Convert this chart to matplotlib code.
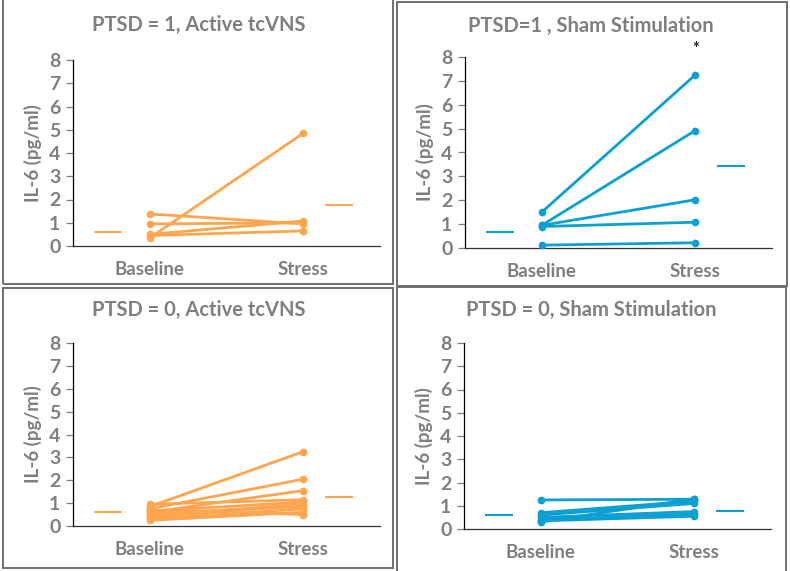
import matplotlib
matplotlib.use("Agg")
import matplotlib.pyplot as plt
from matplotlib.patches import Rectangle

# ---- data ----
categories = ["Baseline", "Stress"]
yticks = [0, 1, 2, 3, 4, 5, 6, 7, 8]

titles = ["PTSD = 1, Active tcVNS", "PTSD=1 , Sham Stimulation",
          "PTSD = 0, Active tcVNS", "PTSD = 0, Sham Stimulation"]

tl_baseline = [1.38, 0.95, 0.50, 0.45, 0.35]
tl_stress = [0.95, 1.00, 1.08, 0.65, 4.85]
tl_means = [0.60, 1.75]

tr_baseline = [1.50, 0.95, 0.95, 0.90, 0.12]
tr_stress = [7.25, 4.92, 2.02, 1.08, 0.22]
tr_means = [0.68, 3.42]

bl_baseline = [0.85, 0.75, 0.60, 0.95, 0.65, 0.45, 0.55, 0.30, 0.25, 0.70, 0.40]
bl_stress = [3.25, 2.05, 1.55, 1.15, 1.05, 0.95, 0.85, 0.75, 0.60, 0.50, 0.90]
bl_means = [0.60, 1.28]

br_baseline = [1.25, 0.70, 0.60, 0.50, 0.40, 0.35, 0.30]
br_stress = [1.28, 1.20, 1.10, 0.75, 0.65, 0.55, 1.30]
br_means = [0.60, 0.77]

ORANGE = "#FFA54F"
BLUE = "#0AA0D2"
GRAY = "#7F7F7F"

plt.rcParams['font.family'] = ['Lato', 'DejaVu Sans']

fig = plt.figure(figsize=(7.9, 5.71), dpi=100)
W, H = 790.0, 571.0

def px_axes(x0, x1, ytop, ybot):
    return fig.add_axes([x0 / W, 1 - ybot / H, (x1 - x0) / W, (ybot - ytop) / H])

panels = [
    dict(box=(73, 380, 60, 246), data=(tl_baseline, tl_stress, tl_means), color=ORANGE,
         title=titles[0], tpos=(199, 25), ylx=33, star=False),
    dict(box=(465, 772, 57, 248), data=(tr_baseline, tr_stress, tr_means), color=BLUE,
         title=titles[1], tpos=(591, 26), ylx=425, star=True),
    dict(box=(73, 380, 343, 526), data=(bl_baseline, bl_stress, bl_means), color=ORANGE,
         title=titles[2], tpos=(199, 310), ylx=33, star=False),
    dict(box=(464, 771, 343, 529), data=(br_baseline, br_stress, br_means), color=BLUE,
         title=titles[3], tpos=(591, 310), ylx=424, star=False),
]

for p in panels:
    x0, x1, yt, yb = p["box"]
    ax = px_axes(x0, x1, yt, yb)
    base, stress, means = p["data"]
    c = p["color"]
    for b, s in zip(base, stress):
        ax.plot([1, 2], [b, s], color=c, lw=2.0, marker='o', ms=4.5,
                solid_capstyle='round', clip_on=False, zorder=3)
    ax.plot([0.73], [means[0]], marker='_', ms=20, mew=1.5, color=c, ls='none')
    ax.plot([2.23], [means[1]], marker='_', ms=20, mew=1.5, color=c, ls='none')
    ax.set_xlim(0.5, 2.5)
    ax.set_ylim(0, 8)
    ax.set_yticks(yticks)
    ax.set_yticklabels([str(t) for t in yticks])
    ax.set_xticks([1, 2])
    ax.set_xticklabels(categories)
    for sp in ["top", "right"]:
        ax.spines[sp].set_visible(False)
    ax.spines["left"].set_color("black")
    ax.spines["bottom"].set_color("#333333")
    ax.spines["left"].set_linewidth(0.9)
    ax.spines["bottom"].set_linewidth(0.9)
    ax.tick_params(axis='y', length=5, width=0.9, color=GRAY, pad=4,
                   labelsize=14, labelcolor=GRAY)
    ax.tick_params(axis='x', length=0, pad=11, labelsize=13.5, labelcolor=GRAY)
    for lab in ax.get_yticklabels() + ax.get_xticklabels():
        lab.set_fontweight('bold')
    fig.text(p["tpos"][0] / W, 1 - p["tpos"][1] / H, p["title"], ha='center', va='center',
             fontsize=14.5, fontweight='bold', color=GRAY)
    fig.text(p["ylx"] / W, 1 - ((yt + yb) / 2) / H, "IL-6 (pg/ml)", rotation=90,
             ha='center', va='center', fontsize=13.5, fontweight='bold', color=GRAY)
    if p["star"]:
        ax.text(2, 8.0, "*", ha='center', va='bottom', fontsize=12, fontweight='bold',
                color='#222222', clip_on=False)

# panel borders
for (bx0, by0, bx1, by1) in [(3, -2, 393, 284), (397, 2, 787, 286),
                              (3, 288, 393, 568), (397, 287, 786, 574)]:
    fig.patches.append(Rectangle((bx0 / W, 1 - by1 / H), (bx1 - bx0) / W, (by1 - by0) / H,
                                 transform=fig.transFigure, fill=False,
                                 edgecolor="#6E6E6E", linewidth=1.4))

fig.savefig("out.png", dpi=100)
